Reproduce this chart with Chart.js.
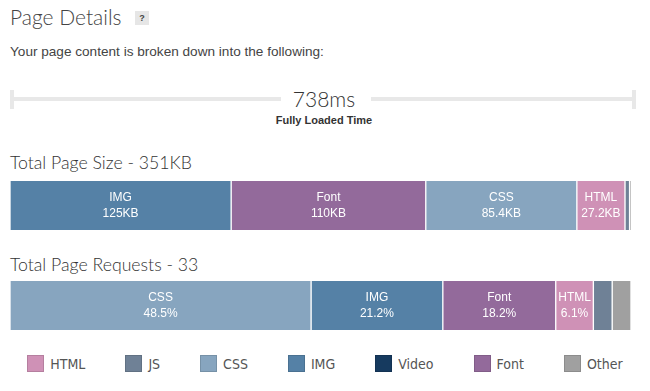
<!DOCTYPE html>
<html>
<head>
<meta charset="utf-8">
<script src="https://cdn.jsdelivr.net/npm/chart.js@4/dist/chart.umd.min.js"></script>
<style>
  body { margin: 0; background: #fff; width: 650px; height: 391px; position: relative; overflow: hidden; }
  .abs { position: absolute; }
  #title { left: 10px; top: 4px; font: 300 21px Lato, sans-serif; color: #444; }
  #help { left: 135px; top: 11px; width: 14px; height: 14px; background: #e6e6e6; font: bold 9px "Liberation Sans", Arial; color: #444; text-align: center; line-height: 14px; }
  #intro { left: 10px; top: 44px; font: 13.6px "Liberation Sans", Arial, sans-serif; color: #444; }
  .line { background: #e8e8e8; height: 4px; top: 97px; }
  .cap { background: #e8e8e8; width: 4px; height: 19px; top: 90px; }
  #time { left: 0; width: 648px; text-align: center; top: 86px; font: 300 21px Lato, sans-serif; color: #333; }
  #timeLbl { left: 0; width: 648px; text-align: center; top: 114px; font: bold 11px "Liberation Sans", Arial, sans-serif; color: #333; }
  .h2 { left: 10px; font: 300 17.7px Lato, sans-serif; color: #333; }
  #legend { left: 0; width: 650px; top: 355px; display: flex; justify-content: center; font: 14px "DejaVu Sans Condensed", sans-serif; color: #555; }
  .item { display: flex; align-items: center; margin: 0 20px; }
  .box { width: 15px; height: 15px; border: 1px solid rgba(0,0,0,0.12); margin-right: 6px; }
</style>
</head>
<body>
<div id="title" class="abs">Page Details</div>
<div id="help" class="abs">?</div>
<div id="intro" class="abs">Your page content is broken down into the following:</div>

<div class="abs cap" style="left:10px"></div>
<div class="abs line" style="left:14px; width:267px"></div>
<div class="abs line" style="left:371px; width:261px"></div>
<div class="abs cap" style="left:632px"></div>
<div id="time" class="abs">738ms</div>
<div id="timeLbl" class="abs">Fully Loaded Time</div>

<div class="abs h2" style="top:152px">Total Page Size - 351KB</div>
<div class="abs" style="left:10px; top:181px"><canvas id="sizeChart" width="621" height="49"></canvas></div>

<div class="abs h2" style="top:254px">Total Page Requests - 33</div>
<div class="abs" style="left:10px; top:281px"><canvas id="reqChart" width="621" height="49"></canvas></div>

<div id="legend" class="abs"></div>

<script>
// content types and their colours
const types = ['HTML', 'JS', 'CSS', 'IMG', 'Video', 'Font', 'Other'];
const typeColors = ['#cf91b6', '#6f8196', '#87a5bf', '#5581a6', '#163a5f', '#936a9b', '#a0a0a0'];

// page size in KB, in drawing order
const sizeTypes = ['IMG', 'Font', 'CSS', 'HTML', 'JS', 'Other'];
const sizeKB = [125, 110, 85.4, 27.2, 2.6, 0.8];

// number of requests, in drawing order
const reqTypes = ['CSS', 'IMG', 'Font', 'HTML', 'JS', 'Other'];
const reqCounts = [16, 7, 6, 2, 1, 1];

const colorOf = t => typeColors[types.indexOf(t)];

// writes "name / value" in the middle of each wide enough segment
const segLabels = {
  id: 'segLabels',
  afterDatasetsDraw(chart, args, opts) {
    const ctx = chart.ctx;
    ctx.save();
    ctx.fillStyle = '#fff';
    ctx.font = '12px "Liberation Sans", Arial, sans-serif';
    ctx.textAlign = 'center';
    ctx.textBaseline = 'middle';
    chart.data.datasets.forEach((ds, i) => {
      const bar = chart.getDatasetMeta(i).data[0];
      if (!bar) return;
      const w = Math.abs(bar.x - bar.base);
      if (w < 30) return;
      const cx = (bar.x + bar.base) / 2;
      ctx.fillText(ds.label, cx, bar.y - 8);
      ctx.fillText(opts.fmt(ds.data[0]), cx, bar.y + 8);
    });
    ctx.restore();
  }
};

function stackedBar(id, names, values, fmt) {
  const total = values.reduce((a, b) => a + b, 0);
  return new Chart(document.getElementById(id), {
    type: 'bar',
    data: {
      labels: [''],
      datasets: names.map((n, i) => ({
        label: n,
        data: [values[i]],
        backgroundColor: colorOf(n),
        borderColor: '#ffffff',
        borderWidth: { left: 1, right: 1, top: 0, bottom: 0 },
        borderSkipped: false,
        categoryPercentage: 1,
        barPercentage: 1
      }))
    },
    options: {
      indexAxis: 'y',
      responsive: false,
      animation: false,
      layout: { padding: 0 },
      scales: {
        x: { stacked: true, min: 0, max: total, display: false },
        y: { stacked: true, display: false }
      },
      plugins: {
        legend: { display: false },
        tooltip: { enabled: false },
        segLabels: { fmt: v => fmt(v, total) }
      }
    },
    plugins: [segLabels]
  });
}

stackedBar('sizeChart', sizeTypes, sizeKB, v => v + 'KB');
stackedBar('reqChart', reqTypes, reqCounts, (v, t) => (v / t * 100).toFixed(1) + '%');

const legend = document.getElementById('legend');
types.forEach((t, i) => {
  const el = document.createElement('div');
  el.className = 'item';
  el.innerHTML = '<span class="box" style="background:' + typeColors[i] + '"></span>' + t;
  legend.appendChild(el);
});
</script>
</body>
</html>
